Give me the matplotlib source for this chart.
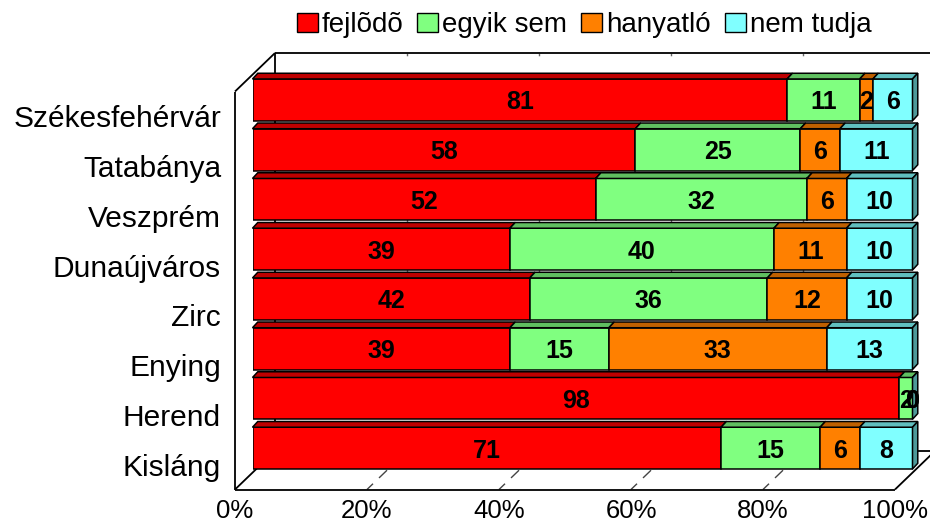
import matplotlib
matplotlib.use("Agg")
import matplotlib.pyplot as plt
from matplotlib.patches import Polygon, Patch
from matplotlib.transforms import Affine2D
import numpy as np

plt.rcParams['font.family'] = ['Liberation Sans', 'DejaVu Sans']

cities = ['Székesfehérvár', 'Tatabánya', 'Veszprém', 'Dunaújváros',
          'Zirc', 'Enying', 'Herend', 'Kisláng']
fejlodo = [81, 58, 52, 39, 42, 39, 98, 71]
egyik_sem = [11, 25, 32, 40, 36, 15, 2, 15]
hanyatlo = [2, 6, 6, 11, 12, 33, 0, 6]
nem_tudja = [6, 11, 10, 10, 10, 13, 0, 8]
series_names = ['fejlõdõ', 'egyik sem', 'hanyatló', 'nem tudja']
xtick_vals = [0, 20, 40, 60, 80, 100]
xtick_labels = ['0%', '20%', '40%', '60%', '80%', '100%']

front_colors = ['#FF0000', '#80FF80', '#FF8000', '#80FFFF']
top_colors = ['#BF0000', '#60BF60', '#BF6000', '#60BFBF']
side_colors = ['#990000', '#4D994D', '#994D00', '#4D9999']

W, H = 930, 525
fig = plt.figure(figsize=(W / 100, H / 100), dpi=100)
ax = fig.add_axes([252.5 / W, (H - 473) / H, 660 / W, 398 / H])
ax.set_xlim(0, 100)
ax.set_ylim(-0.5, 7.5)
ax.axis('off')

# planes
T_front = ax.transData + Affine2D().translate(-17.5, -16.5)
T_back = ax.transData + Affine2D().translate(22.5, 22)

def pt(T, x, y):
    return T.transform((x, y))

def seg(p, q, color='black', lw=1.3, z=0.5, ls='-'):
    ax.plot([p[0], q[0]], [p[1], q[1]], color=color, lw=lw, zorder=z, ls=ls,
            transform=Affine2D(), clip_on=False, solid_capstyle='butt')

y0, y1 = -0.5, 7.5
# gridlines on back wall and floor
for v in xtick_vals[1:-1]:
    seg(pt(T_back, v, y1), pt(T_back, v, y0), color='#666666', lw=1.0, z=0.4,
        ls=(4, (6, 14)))
    seg(pt(T_front, v, y0), pt(T_back, v, y0), color='#444444', lw=1.0, z=0.4,
        ls=(2, (8, 6)))
# walls
seg(pt(T_front, 0, y0), pt(T_front, 0, y1))
seg(pt(T_front, 0, y1), pt(T_back, 0, y1))
seg(pt(T_back, 0, y0), pt(T_back, 0, y1))
seg(pt(T_back, 0, y1), pt(T_back, 100, y1))
seg(pt(T_back, 100, y0), pt(T_back, 100, y1))
seg(pt(T_front, 0, y0), pt(T_back, 0, y0))
seg(pt(T_front, 0, y0), pt(T_front, 100, y0))
seg(pt(T_front, 100, y0), pt(T_back, 100, y0))
seg(pt(T_back, 0, y0), pt(T_back, 100, y0))

data = np.array([fejlodo, egyik_sem, hanyatlo, nem_tudja], dtype=float)
ypos = np.arange(len(cities))[::-1]  # Székesfehérvár on top
bh = 0.84
ddx, ddy = 0.8, 0.115

lefts = np.zeros(len(cities))
for j in range(4):
    vals = data[j]
    ax.barh(ypos, vals, left=lefts, height=bh, color=front_colors[j],
            edgecolor='black', linewidth=1.1, zorder=2)
    for i in range(len(cities)):
        l, r = lefts[i], lefts[i] + vals[i]
        t = ypos[i] + bh / 2
        ax.add_patch(Polygon([(l, t), (r, t), (r + ddx, t + ddy), (l + ddx, t + ddy)],
                             closed=True, facecolor=top_colors[j],
                             edgecolor='black', linewidth=1.1, zorder=2,
                             clip_on=False))
        ax.text((l + r) / 2, ypos[i], f'{int(vals[i])}', ha='center',
                va='center_baseline', fontsize=18, fontweight='bold',
                color='black', zorder=4)
    lefts = lefts + vals

# right side faces
for i in range(len(cities)):
    r = lefts[i]
    b = ypos[i] - bh / 2
    t = ypos[i] + bh / 2
    ax.add_patch(Polygon([(r, b), (r, t), (r + ddx, t + ddy), (r + ddx, b + ddy)],
                         closed=True, facecolor=side_colors[3], edgecolor='black',
                         linewidth=1.1, zorder=2, clip_on=False))

# category labels on the front plane
T_lab = T_front + Affine2D().translate(-14, 0)
for i, c in enumerate(cities):
    ax.text(0, ypos[i], c, transform=T_lab, ha='right', va='center_baseline',
            fontsize=21.5, color='black')

# x tick labels on the front plane
T_xl = T_front + Affine2D().translate(0, -9)
for v, lab in zip(xtick_vals, xtick_labels):
    ax.text(v, y0, lab, transform=T_xl, ha='center', va='top', fontsize=18.5)

handles = [Patch(facecolor=front_colors[j], edgecolor='black', linewidth=1.0)
           for j in range(4)]
fig.legend(handles, series_names, loc='center', bbox_to_anchor=(0.628, 0.952),
           ncol=4, frameon=False, fontsize=20, handlelength=0.75,
           handleheight=0.65, handletextpad=0.15, columnspacing=0.5,
           borderpad=0.1)

fig.savefig('out.png', dpi=100)
